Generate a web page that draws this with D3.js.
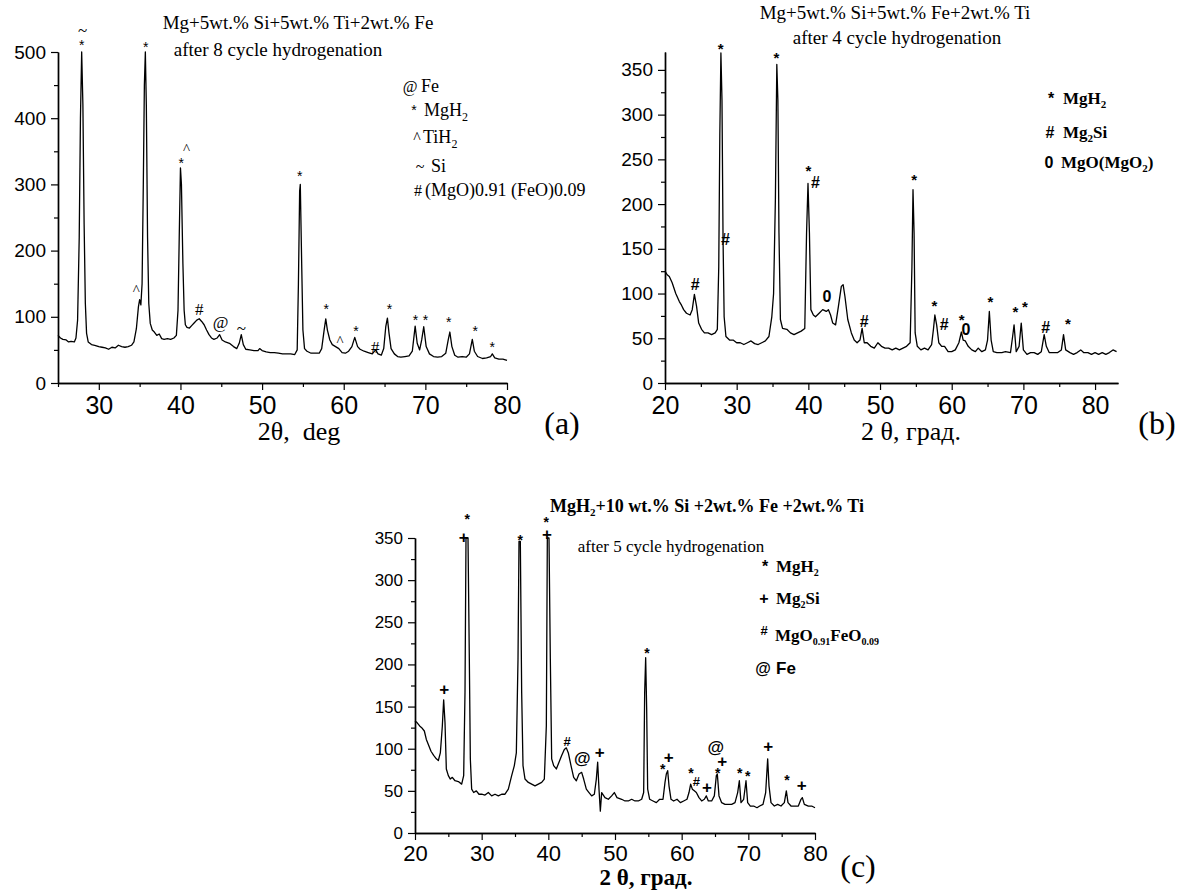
<!DOCTYPE html>
<html>
<head>
<meta charset="utf-8">
<script src="https://cdn.jsdelivr.net/npm/d3@7"></script>
<style>
body { margin: 0; background: #fff; }
svg { display: block; }
</style>
</head>
<body>
<svg id="fig" width="1184" height="892"></svg>
<script>
// ---------- data ----------
// [2theta, intensity]
const scanA = [
	[25.0,72],[25.3,68],[25.6,66],[26.0,65],[26.3,62],[26.6,63],[27.0,62],[27.2,68],[27.4,95],[27.6,220],
	[27.75,400],[27.9,500],[28.05,420],[28.2,240],[28.35,120],[28.5,75],[28.7,62],[29.1,58],[29.5,57],[30.0,55],
	[30.4,54],[30.8,53],[31.2,51],[31.6,54],[32.0,53],[32.4,57],[32.8,55],[33.2,54],[33.6,55],[34.0,57],
	[34.3,62],[34.6,82],[34.85,115],[35.0,126],[35.15,118],[35.3,150],[35.45,300],[35.58,450],[35.7,500],[35.82,420],
	[35.97,220],[36.12,120],[36.3,90],[36.55,80],[36.8,77],[37.1,72],[37.4,74],[37.7,67],[38.0,66],[38.4,67],
	[38.8,66],[39.2,68],[39.5,72],[39.7,110],[39.85,220],[40.0,325],[40.12,300],[40.3,180],[40.45,110],[40.6,88],
	[40.8,84],[41.1,83],[41.4,87],[41.7,91],[42.0,95],[42.3,97],[42.6,93],[42.9,88],[43.2,80],[43.5,73],
	[43.8,68],[44.1,66],[44.5,68],[44.8,73],[45.1,65],[45.5,62],[46.0,60],[46.5,55],[46.9,52],[47.2,60],
	[47.45,73],[47.7,58],[48.0,51],[48.5,50],[49.0,49],[49.5,49],[49.7,52],[50.0,49],[50.5,47],[51.0,46],
	[51.5,46],[52.0,45],[52.5,44],[53.0,44],[53.5,44],[54.0,43],[54.3,50],[54.45,150],[54.6,290],[54.68,300],
	[54.85,180],[55.0,80],[55.2,52],[55.5,48],[56.0,45],[56.5,45],[57.0,45],[57.3,52],[57.6,80],[57.8,97],
	[58.0,80],[58.3,65],[58.6,58],[59.0,55],[59.4,52],[59.8,46],[60.2,45],[60.6,48],[61.0,55],[61.35,69],
	[61.7,55],[62.0,51],[62.5,48],[63.0,46],[63.5,44],[63.9,50],[64.2,44],[64.6,42],[64.9,52],[65.15,85],
	[65.35,98],[65.55,75],[65.8,52],[66.2,44],[66.6,40],[67.0,39],[67.5,40],[68.0,41],[68.4,48],[68.75,86],
	[69.0,60],[69.3,50],[69.55,65],[69.8,85],[70.1,55],[70.5,44],[71.0,40],[71.5,39],[72.0,40],[72.5,45],
	[72.8,65],[73.0,77],[73.25,55],[73.6,42],[74.0,39],[74.5,40],[75.0,39],[75.4,44],[75.75,66],[76.0,48],
	[76.4,40],[77.0,37],[77.5,38],[78.0,40],[78.2,44],[78.5,38],[79.0,36],[79.5,36],[80.0,34]
];

const scanB = [
	[20.0,125],[20.3,121],[20.6,119],[21.0,112],[21.5,100],[22.0,91],[22.3,87],[22.6,82],[23.0,78],[23.5,76],
	[23.8,82],[24.1,99],[24.4,86],[24.7,67],[25.1,60],[25.5,56],[26.0,56],[26.5,54],[27.0,56],[27.3,60],
	[27.5,130],[27.65,279],[27.8,369],[27.95,316],[28.1,160],[28.25,74],[28.5,52],[29.0,48],[29.5,48],[30.0,45],
	[30.5,45],[31.0,43],[31.5,45],[32.0,47],[32.5,44],[33.0,43],[33.5,45],[34.0,47],[34.5,52],[34.9,74],
	[35.15,100],[35.4,205],[35.6,356],[35.75,316],[35.9,168],[36.1,71],[36.4,61],[37.0,60],[37.5,56],[38.0,54],
	[38.5,56],[39.0,58],[39.5,61],[39.75,168],[39.95,223],[40.15,168],[40.35,82],[40.7,76],[41.0,74],[41.5,78],
	[42.0,82],[42.5,80],[42.8,82],[43.1,76],[43.4,67],[43.8,65],[44.2,86],[44.6,108],[44.85,110],[45.1,97],
	[45.5,71],[46.0,56],[46.4,48],[46.8,45],[47.2,48],[47.5,61],[47.8,45],[48.2,45],[48.7,41],[49.2,39],
	[49.7,45],[50.2,41],[50.7,39],[51.2,39],[51.7,37],[52.2,39],[52.7,37],[53.2,39],[53.7,41],[54.2,45],
	[54.45,130],[54.6,216],[54.75,168],[54.9,56],[55.2,41],[55.7,37],[56.2,39],[56.7,37],[57.2,43],[57.45,60],
	[57.65,76],[57.9,65],[58.2,45],[58.6,41],[59.0,41],[59.5,35],[60.0,35],[60.5,37],[61.0,45],[61.35,57],
	[61.6,48],[61.9,47],[62.3,41],[62.8,37],[63.3,35],[63.7,39],[64.2,35],[64.7,37],[65.0,48],[65.25,80],
	[65.5,48],[65.8,35],[66.3,34],[67.0,34],[67.5,35],[68.2,34],[68.5,52],[68.7,65],[69.0,35],[69.4,41],
	[69.7,67],[70.0,37],[70.5,32],[71.0,34],[71.5,34],[72.0,32],[72.5,35],[72.9,54],[73.2,41],[73.6,34],
	[74.2,34],[74.8,34],[75.3,37],[75.6,54],[75.9,37],[76.5,34],[77.0,32],[77.5,34],[78.0,37],[78.4,34],
	[79.0,34],[79.5,32],[80.0,34],[80.5,32],[81.0,34],[81.5,32],[82.0,34],[82.5,37],[83.0,35]
];

const scanC = [
	[20.0,133],[20.3,131],[20.7,127],[21.0,125],[21.4,121],[21.7,111],[22.0,105],[22.4,97],[22.8,92],[23.2,88],
	[23.5,86],[23.8,95],[24.1,127],[24.3,158],[24.5,131],[24.7,76],[25.0,68],[25.3,64],[25.6,66],[26.0,62],
	[26.5,61],[27.0,58],[27.3,68],[27.5,167],[27.65,350],[27.95,350],[28.15,206],[28.3,88],[28.5,52],[28.8,48],
	[29.2,50],[29.6,46],[30.0,46],[30.5,45],[31.0,48],[31.5,44],[32.0,46],[32.5,44],[33.0,46],[33.5,46],
	[34.0,52],[34.5,68],[34.9,80],[35.2,95],[35.45,206],[35.6,346],[35.8,346],[36.0,167],[36.2,80],[36.5,64],
	[37.0,60],[37.5,58],[38.0,56],[38.5,58],[39.0,60],[39.4,64],[39.7,127],[39.85,350],[40.1,350],[40.3,206],
	[40.5,88],[40.8,80],[41.2,76],[41.6,84],[42.0,92],[42.4,99],[42.7,101],[43.0,95],[43.4,80],[43.8,66],
	[44.2,62],[44.6,70],[45.0,72],[45.3,64],[45.7,52],[46.1,48],[46.5,44],[46.9,46],[47.2,64],[47.4,84],
	[47.6,52],[47.8,26],[48.0,48],[48.5,42],[49.0,40],[49.5,44],[49.9,48],[50.3,42],[51.0,40],[51.5,38],
	[52.0,38],[52.5,40],[53.0,38],[53.5,38],[54.0,40],[54.3,48],[54.45,167],[54.6,208],[54.75,147],[54.9,52],
	[55.2,40],[55.7,38],[56.2,36],[56.7,40],[57.2,40],[57.5,60],[57.7,70],[57.9,74],[58.1,56],[58.4,40],
	[58.8,38],[59.3,40],[59.8,36],[60.3,38],[60.8,40],[61.1,48],[61.35,58],[61.6,52],[61.9,50],[62.2,48],
	[62.6,42],[63.0,38],[63.4,40],[63.7,44],[64.0,38],[64.5,38],[64.9,44],[65.2,68],[65.35,70],[65.6,44],
	[66.0,36],[66.5,34],[67.0,34],[67.5,34],[68.0,36],[68.4,48],[68.65,62],[68.9,36],[69.3,40],[69.65,62],
	[69.9,36],[70.3,32],[70.8,32],[71.3,30],[71.7,32],[72.2,34],[72.6,48],[72.9,88],[73.1,56],[73.4,36],
	[73.9,32],[74.4,34],[74.9,32],[75.4,36],[75.7,50],[75.95,36],[76.4,32],[77.0,32],[77.5,32],[77.9,40],
	[78.1,42],[78.4,34],[79.0,32],[79.5,32],[80.0,30]
];

// tick values
const xMajorA = [30, 40, 50, 60, 70, 80];
const xMinorA = [25, 35, 45, 55, 65, 75];
const yMajorA = [0, 100, 200, 300, 400, 500];
const yMinorA = [50, 150, 250, 350, 450];

const xMajorB = [20, 30, 40, 50, 60, 70, 80];
const xMinorB = [25, 35, 45, 55, 65, 75];
const yMajorB = [0, 50, 100, 150, 200, 250, 300, 350];
const yMinorB = [25, 75, 125, 175, 225, 275, 325];

const xMajorC = [20, 30, 40, 50, 60, 70, 80];
const xMinorC = [25, 35, 45, 55, 65, 75];
const yMajorC = [0, 50, 100, 150, 200, 250, 300, 350];
const yMinorC = [25, 75, 125, 175, 225, 275, 325];

// peak markers: [symbol, 2theta, intensity]
const marksA = [
	["~", 28.0, 533], ["*", 27.9, 511], ["*", 35.75, 507], ["^", 40.75, 354], ["*", 40.1, 333],
	["^", 34.6, 140], ["#", 42.3, 111], ["@", 44.9, 91], ["~", 47.45, 83], ["*", 54.6, 312],
	["*", 57.85, 112], ["^", 59.55, 64], ["*", 61.5, 78], ["#", 63.85, 54], ["*", 65.6, 112],
	["*", 68.8, 95], ["*", 70.0, 95], ["*", 72.85, 92], ["*", 76.1, 78], ["*", 78.2, 55]
];
const marksB = [
	["*", 27.75, 374], ["#", 28.45, 160], ["#", 24.2, 110], ["*", 35.55, 364], ["*", 40.0, 238],
	["#", 41.0, 224], ["0", 42.6, 97], ["#", 47.8, 69], ["*", 54.75, 228], ["*", 57.6, 87],
	["#", 58.95, 65], ["*", 61.4, 71], ["0", 62.0, 60], ["*", 65.4, 91], ["*", 68.9, 80],
	["*", 70.2, 86], ["#", 73.1, 62], ["*", 76.2, 66]
];
const marksC = [
	["*", 27.85, 373], ["+", 27.3, 351], ["*", 35.8, 348], ["*", 39.7, 369], ["+", 39.8, 354],
	["+", 24.4, 170], ["#", 42.8, 109], ["@", 45.1, 88], ["+", 47.7, 95], ["*", 54.8, 214],
	["*", 57.15, 76], ["+", 58.05, 89], ["*", 61.4, 71], ["#", 62.2, 61], ["+", 63.8, 54],
	["@", 65.1, 102], ["+", 66.1, 85], ["*", 65.4, 71], ["*", 68.7, 71], ["*", 69.9, 68],
	["+", 73.0, 103], ["*", 75.8, 63], ["+", 78.0, 56]
];

// titles and legends; text parts are [text, isSubscript]
const titleA = ["Mg+5wt.% Si+5wt.% Ti+2wt.% Fe", "after 8 cycle hydrogenation"];
const titleB = ["Mg+5wt.% Si+5wt.% Fe+2wt.% Ti", "after 4 cycle hydrogenation"];
const titleC1 = [["MgH", 0], ["2", 1], ["+10 wt.% Si +2wt.% Fe +2wt.% Ti", 0]];
const titleC2 = "after 5 cycle hydrogenation";

const legendA = [
	["@", [["Fe", 0]]],
	["*", [["MgH", 0], ["2", 1]]],
	["^", [["TiH", 0], ["2", 1]]],
	["~", [["Si", 0]]],
	["#", [["(MgO)0.91 (FeO)0.09", 0]]]
];
const legendB = [
	["*", [["MgH", 0], ["2", 1]]],
	["#", [["Mg", 0], ["2", 1], ["Si", 0]]],
	["0", [["MgO(MgO", 0], ["2", 1], [")", 0]]]
];
const legendC = [
	["*", [["MgH", 0], ["2", 1]]],
	["+", [["Mg", 0], ["2", 1], ["Si", 0]]],
	["#", [["MgO", 0], ["0.91", 1], ["FeO", 0], ["0.09", 1]]],
	["@", [["Fe", 0]]]
];

const axisLabelA = "2θ,  deg";
const axisLabelB = "2 θ, град.";
const axisLabelC = "2 θ, град.";

// ---------- drawing ----------
const svg = d3.select("#fig");
const SERIF = "'Liberation Serif', 'Times New Roman', serif";
const SANS = "'Liberation Sans', Arial, sans-serif";

function addParts(textSel, parts, subSize, subShift) {
	parts.forEach(([t, sub], i) => {
		const ts = textSel.append("tspan").text(t);
		if (sub) {
			ts.attr("font-size", subSize).attr("dy", subShift);
		} else if (i > 0 && parts[i - 1][1]) {
			ts.attr("dy", -subShift);
		}
	});
}

function drawPanel(p) {
	const g = svg.append("g");
	const x = d3.scaleLinear().domain(p.xDomain).range(p.xRange);
	const y = d3.scaleLinear().domain(p.yDomain).range(p.yRange);

	const styleAxis = (sel, size) => {
		sel.attr("font-family", SANS).attr("font-size", size);
		sel.select(".domain").attr("stroke", "#000").attr("stroke-width", 1.4);
		sel.selectAll(".tick line").attr("stroke", "#000").attr("stroke-width", 1.2);
		sel.selectAll(".tick text").attr("fill", "#000");
	};

	// minor ticks
	g.append("g").attr("transform", "translate(0," + p.yRange[0] + ")")
		.call(d3.axisBottom(x).tickValues(p.xMinor).tickSize(4).tickSizeOuter(0).tickFormat(""))
		.call(s => styleAxis(s, 10));
	g.append("g").attr("transform", "translate(" + p.xRange[0] + ",0)")
		.call(d3.axisLeft(y).tickValues(p.yMinor).tickSize(4).tickSizeOuter(0).tickFormat(""))
		.call(s => styleAxis(s, 10));

	// major ticks with labels
	g.append("g").attr("transform", "translate(0," + p.yRange[0] + ")")
		.call(d3.axisBottom(x).tickValues(p.xMajor).tickSize(7).tickSizeOuter(0).tickPadding(p.xPad))
		.call(s => styleAxis(s, p.xFont));
	g.append("g").attr("transform", "translate(" + p.xRange[0] + ",0)")
		.call(d3.axisLeft(y).tickValues(p.yMajor).tickSize(7).tickSizeOuter(0).tickPadding(5))
		.call(s => styleAxis(s, p.yFont));

	// the pattern
	const line = d3.line().x(d => x(d[0])).y(d => y(d[1]));
	g.append("path")
		.datum(p.scan)
		.attr("d", line)
		.attr("fill", "none")
		.attr("stroke", "#000")
		.attr("stroke-width", 1.3)
		.attr("stroke-linejoin", "round");

	// peak markers
	g.selectAll(".mark")
		.data(p.marks)
		.enter().append("text")
		.attr("x", d => x(d[1]))
		.attr("y", d => y(d[2]))
		.attr("text-anchor", "middle")
		.attr("dominant-baseline", "central")
		.attr("font-family", d => p.markFamily(d[0]))
		.attr("font-weight", p.markWeight)
		.attr("font-size", d => p.markSize(d[0]))
		.text(d => d[0]);

	return { g, x, y };
}

// panel (a)
const pa = drawPanel({
	scan: scanA, xDomain: [25, 80], yDomain: [0, 500], xRange: [58, 507], yRange: [383, 52],
	xMajor: xMajorA, xMinor: xMinorA, yMajor: yMajorA, yMinor: yMinorA,
	xFont: 25, yFont: 19, xPad: 6,
	marks: marksA, markWeight: "normal",
	markFamily: s => (s === "*" ? SANS : SERIF),
	markSize: s => (s === "*" ? 14 : s === "^" ? 15 : 17)
});
pa.g.selectAll(".title").data(titleA).enter().append("text")
	.attr("x", (d, i) => (i === 0 ? 298 : 278))
	.attr("y", (d, i) => (i === 0 ? 29 : 56))
	.attr("text-anchor", "middle")
	.attr("font-family", SERIF).attr("font-size", 19)
	.text(d => d);
legendA.forEach(([sym, parts], i) => {
	const ys = [86, 110, 137, 166, 190][i];
	pa.g.append("text").attr("x", [410, 414, 417, 420, 418][i]).attr("y", ys)
		.attr("text-anchor", "middle").attr("dominant-baseline", "central")
		.attr("font-family", sym === "*" ? SANS : SERIF)
		.attr("font-size", sym === "*" ? 14 : 16).text(sym);
	const t = pa.g.append("text").attr("x", [421, 424, 423, 431, 425][i]).attr("y", ys + 6)
		.attr("font-family", SERIF).attr("font-size", 18);
	addParts(t, parts, 12, 5);
});
pa.g.append("text").attr("x", 299).attr("y", 440).attr("text-anchor", "middle")
	.attr("font-family", SERIF).attr("font-size", 26).attr("xml:space", "preserve").text(axisLabelA);
pa.g.append("text").attr("x", 562).attr("y", 434).attr("text-anchor", "middle")
	.attr("font-family", SERIF).attr("font-size", 32).text("(a)");

// panel (b)
const pb = drawPanel({
	scan: scanB, xDomain: [20, 83.2], yDomain: [0, 370], xRange: [665, 1118], yRange: [383, 52],
	xMajor: xMajorB, xMinor: xMinorB, yMajor: yMajorB, yMinor: yMinorB,
	xFont: 25, yFont: 19, xPad: 6,
	marks: marksB, markWeight: "bold",
	markFamily: () => SANS,
	markSize: s => (s === "*" ? 15 : 16)
});
pb.g.selectAll(".title").data(titleB).enter().append("text")
	.attr("x", (d, i) => (i === 0 ? 895 : 897))
	.attr("y", (d, i) => (i === 0 ? 19 : 44))
	.attr("text-anchor", "middle")
	.attr("font-family", SERIF).attr("font-size", 19)
	.text(d => d);
legendB.forEach(([sym, parts], i) => {
	const ys = [98, 132, 162][i];
	pb.g.append("text").attr("x", [1051, 1050, 1049][i]).attr("y", ys)
		.attr("text-anchor", "middle").attr("dominant-baseline", "central")
		.attr("font-family", SANS).attr("font-weight", "bold").attr("font-size", 16).text(sym);
	const t = pb.g.append("text").attr("x", [1063, 1063, 1061][i]).attr("y", ys + 6)
		.attr("font-family", SERIF).attr("font-weight", "bold").attr("font-size", 17);
	addParts(t, parts, 11, 4);
});
pb.g.append("text").attr("x", 911).attr("y", 440).attr("text-anchor", "middle")
	.attr("font-family", SERIF).attr("font-size", 26).text(axisLabelB);
pb.g.append("text").attr("x", 1157).attr("y", 434).attr("text-anchor", "middle")
	.attr("font-family", SERIF).attr("font-size", 32).text("(b)");

// panel (c)
const pc = drawPanel({
	scan: scanC, xDomain: [20, 80], yDomain: [0, 350], xRange: [415, 815], yRange: [833, 538],
	xMajor: xMajorC, xMinor: xMinorC, yMajor: yMajorC, yMinor: yMinorC,
	xFont: 22, yFont: 17, xPad: 5,
	marks: marksC, markWeight: "bold",
	markFamily: () => SANS,
	markSize: s => (s === "#" ? 13 : s === "*" ? 14 : 17)
});
{
	const t = pc.g.append("text").attr("x", 707).attr("y", 512).attr("text-anchor", "middle")
		.attr("font-family", SERIF).attr("font-weight", "bold").attr("font-size", 18);
	addParts(t, titleC1, 11, 4);
}
pc.g.append("text").attr("x", 671).attr("y", 552).attr("text-anchor", "middle")
	.attr("font-family", SERIF).attr("font-size", 17).text(titleC2);
legendC.forEach(([sym, parts], i) => {
	const ys = [566, 598, 635, 668][i];
	pc.g.append("text").attr("x", [765, 764, 764, 763][i]).attr("y", sym === "#" ? ys - 5 : ys)
		.attr("text-anchor", "middle").attr("dominant-baseline", "central")
		.attr("font-family", SANS).attr("font-weight", "bold")
		.attr("font-size", sym === "#" ? 13 : 16).text(sym);
	const t = pc.g.append("text").attr("x", [776, 776, 775, 776][i]).attr("y", ys + 6)
		.attr("font-family", sym === "@" ? SANS : SERIF).attr("font-weight", "bold").attr("font-size", 17);
	addParts(t, parts, 10, 4);
});
pc.g.append("text").attr("x", 646).attr("y", 885).attr("text-anchor", "middle")
	.attr("font-family", SERIF).attr("font-weight", "bold").attr("font-size", 23).text(axisLabelC);
pc.g.append("text").attr("x", 858).attr("y", 877).attr("text-anchor", "middle")
	.attr("font-family", SERIF).attr("font-size", 32).text("(c)");
</script>
</body>
</html>
